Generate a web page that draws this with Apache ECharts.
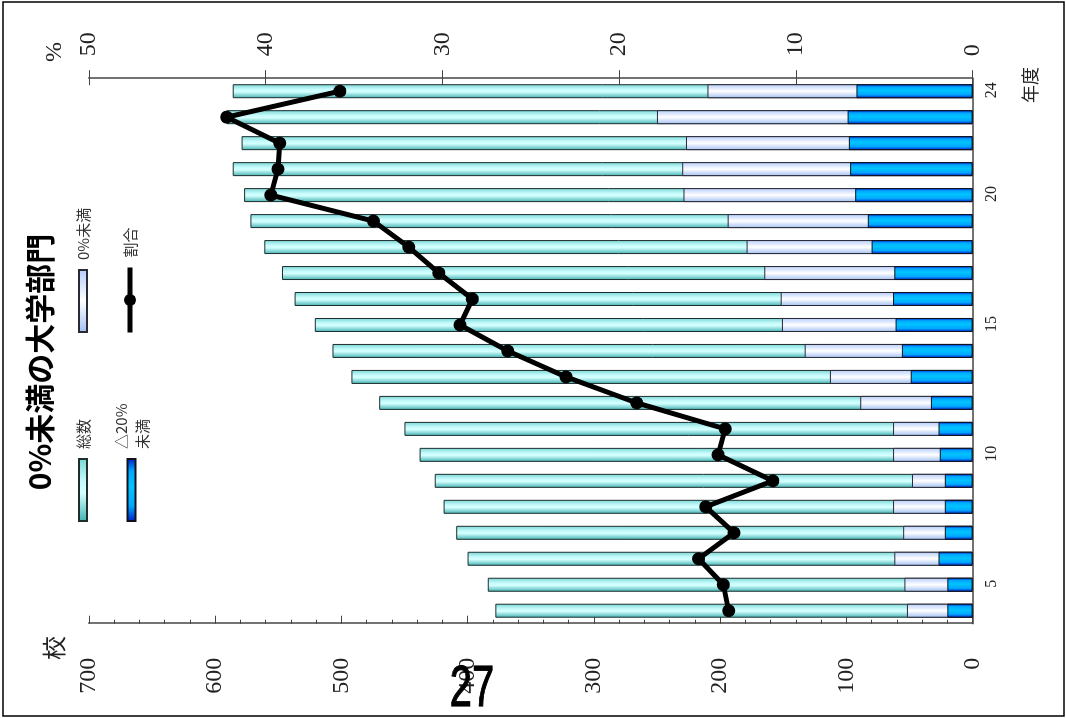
<!DOCTYPE html>
<html>
<head>
<meta charset="utf-8">
<script src="https://cdn.jsdelivr.net/npm/echarts@6/dist/echarts.min.js"></script>
<style>
  html, body { margin: 0; padding: 0; background: #fff; overflow: hidden; width: 1066px; height: 718px; }
  /* The chart is laid out upright (718 x 1066) and turned a quarter turn to the left on the page */
  #chart { position: absolute; left: 0; top: 0; width: 718px; height: 1066px;
           transform-origin: 0 0; transform: translate(0, 718px) rotate(-90deg); }
</style>
</head>
<body>
<div id="chart"></div>
<script>
// 年度 (Heisei 4 – 24)
const years = ['4','5','6','7','8','9','10','11','12','13','14','15','16','17','18','19','20','21','22','23','24'];
const shownYears = ['5','10','15','20','24'];

// 総数 (schools)
const total   = [378, 384, 400, 409, 419, 426, 438, 450, 470, 492, 507, 521, 537, 547, 561, 572, 577, 586, 579, 591, 586];
// 0%未満 (schools)
const below0  = [ 52,  54,  62,  55,  63,  48,  63,  63,  89, 113, 133, 151, 152, 165, 179, 194, 229, 230, 227, 250, 210];
// △20%未満 (schools)
const below20 = [ 20,  20,  27,  22,  22,  22,  26,  27,  33,  49,  56,  61,  63,  62,  80,  83,  93,  97,  98,  99,  92];
// 割合 (%)
const ratio   = [13.8, 14.1, 15.5, 13.5, 15.1, 11.3, 14.4, 14.0, 19.0, 23.0, 26.3, 29.0, 28.3, 30.2, 31.9, 33.9, 39.7, 39.3, 39.2, 42.2, 35.8];

// axis ticks
const countTicks = { min: 0, max: 700, interval: 100 };
const pctTicks   = { min: 0, max: 50,  interval: 10 };

const serif = '"Liberation Serif", "Times New Roman", serif';
const gothic = '"Noto Sans CJK JP", sans-serif';
const axisColor = '#444';

const grad = (stops) => new echarts.graphic.LinearGradient(0, 0, 1, 0,
  stops.map(([offset, color]) => ({ offset, color })));

const tealFill  = grad([[0, '#3fb0b0'], [0.45, '#d4ffff'], [0.62, '#c8fcfc'], [1, '#78d4d4']]);
const paleFill  = grad([[0, '#a0bef2'], [0.5, '#ffffff'], [1, '#b4ccfa']]);
const blueFill  = grad([[0, '#0018c8'], [0.25, '#00a8ff'], [0.55, '#00c4ff'], [0.8, '#00a8ff'], [1, '#0018c8']]);

const legText = { fontFamily: gothic, fontSize: 15, color: '#333', lineHeight: 20, padding: [0, 0, 0, 5] };
const legBase = { padding: 0, itemGap: 0, itemWidth: 62, itemHeight: 8, selectedMode: false, orient: 'horizontal' };

const chart = echarts.init(document.getElementById('chart'), null, { renderer: 'canvas' });

chart.setOption({
  animation: false,
  backgroundColor: '#fff',
  grid: { left: 94.3, right: 78.2, top: 88.8, bottom: 93.4 },
  xAxis: {
    type: 'category',
    data: years,
    position: 'bottom',
    axisLine: { lineStyle: { color: axisColor, width: 1.5 } },
    axisTick: { inside: true, length: 4, interval: 0, lineStyle: { color: axisColor } },
    axisLabel: {
      interval: (i, v) => shownYears.includes(v),
      fontFamily: serif, fontSize: 16, color: '#222', margin: 11, padding: [0, 0, 0, 2]
    }
  },
  yAxis: [
    {
      type: 'value', position: 'left', ...countTicks,
      axisLine: { show: true, lineStyle: { color: axisColor, width: 1.5 } },
      axisTick: { show: true, inside: true, length: 8, lineStyle: { color: axisColor } },
      minorTick: { show: true, splitNumber: 5, length: 4, lineStyle: { color: axisColor } },
      splitLine: { show: false },
      axisLabel: { fontFamily: serif, fontSize: 24, color: '#222', margin: 34 }
    },
    {
      type: 'value', position: 'right', ...pctTicks,
      axisLine: { show: true, lineStyle: { color: axisColor, width: 1.5 } },
      axisTick: { show: true, inside: false, length: 8, lineStyle: { color: axisColor } },
      splitLine: { show: false },
      axisLabel: { fontFamily: serif, fontSize: 24, color: '#222', margin: 22 }
    },
    {
      // inner half of the % ticks, so they cross the axis line
      type: 'value', position: 'right', ...pctTicks,
      axisLine: { show: false },
      axisTick: { show: true, inside: true, length: 7, lineStyle: { color: axisColor } },
      splitLine: { show: false },
      axisLabel: { show: false }
    }
  ],
  legend: [
    { ...legBase, left: 196, top: 73, data: [{ name: '総数', icon: 'rect' }], textStyle: legText },
    { ...legBase, left: 385, top: 73, data: [{ name: '0%未満', icon: 'rect' }], textStyle: legText },
    { ...legBase, left: 196, top: 100, data: [{ name: '△20%未満', icon: 'rect' }],
      formatter: '△20%\n未満', textStyle: { ...legText, lineHeight: 21, padding: [21, 0, 0, 5] } },
    { ...legBase, left: 383, top: 120, itemWidth: 65, itemHeight: 15, data: ['割合'], textStyle: legText,
      lineStyle: { width: 5, color: '#000' }, itemStyle: { color: '#000' } }
  ],
  series: [
    { name: '総数', type: 'bar', data: total, barWidth: 14, barGap: '-100%',
      itemStyle: { color: tealFill, borderColor: '#1e2e2e', borderWidth: 1 } },
    { name: '0%未満', type: 'bar', data: below0, barWidth: 14, barGap: '-100%',
      itemStyle: { color: paleFill, borderColor: '#2a2a36', borderWidth: 1 } },
    { name: '△20%未満', type: 'bar', data: below20, barWidth: 14, barGap: '-100%',
      itemStyle: { color: blueFill, borderColor: '#10101a', borderWidth: 1 } },
    { name: '割合', type: 'line', yAxisIndex: 1, data: ratio, z: 5,
      symbol: 'circle', symbolSize: 13,
      lineStyle: { color: '#000', width: 5 }, itemStyle: { color: '#000' } }
  ],
  graphic: [
    { type: 'rect', silent: true, z: -10, shape: { x: 2, y: 3, width: 714, height: 1061 },
      style: { fill: 'none', stroke: '#000', lineWidth: 1.5 } },
    { type: 'text', x: 356, y: 40,
      style: { text: '0%未満の大学部門', fontFamily: gothic, fontSize: 30, fontWeight: 'bold', fill: '#000',
               align: 'center', verticalAlign: 'middle' } },
    { type: 'text', x: 70, y: 54,
      style: { text: '校', fontFamily: gothic, fontSize: 24, fill: '#222', align: 'center', verticalAlign: 'middle' } },
    { type: 'text', x: 656, y: 55,
      style: { text: '%', fontFamily: serif, fontSize: 24, fill: '#222', align: 'left', verticalAlign: 'middle' } },
    { type: 'text', x: 633, y: 1030,
      style: { text: '年度', fontFamily: gothic, fontSize: 18, fill: '#222', align: 'center', verticalAlign: 'middle' } },
    { type: 'text', x: 28, y: 472, rotation: -Math.PI / 2, scaleX: 0.7, scaleY: 1, z: 20,
      style: { text: '27', fontFamily: '"Liberation Sans", Arial, sans-serif', fontSize: 57,
               fill: '#000', stroke: '#000', lineWidth: 1.2, align: 'center', verticalAlign: 'middle' } }
  ]
});
</script>
</body>
</html>
